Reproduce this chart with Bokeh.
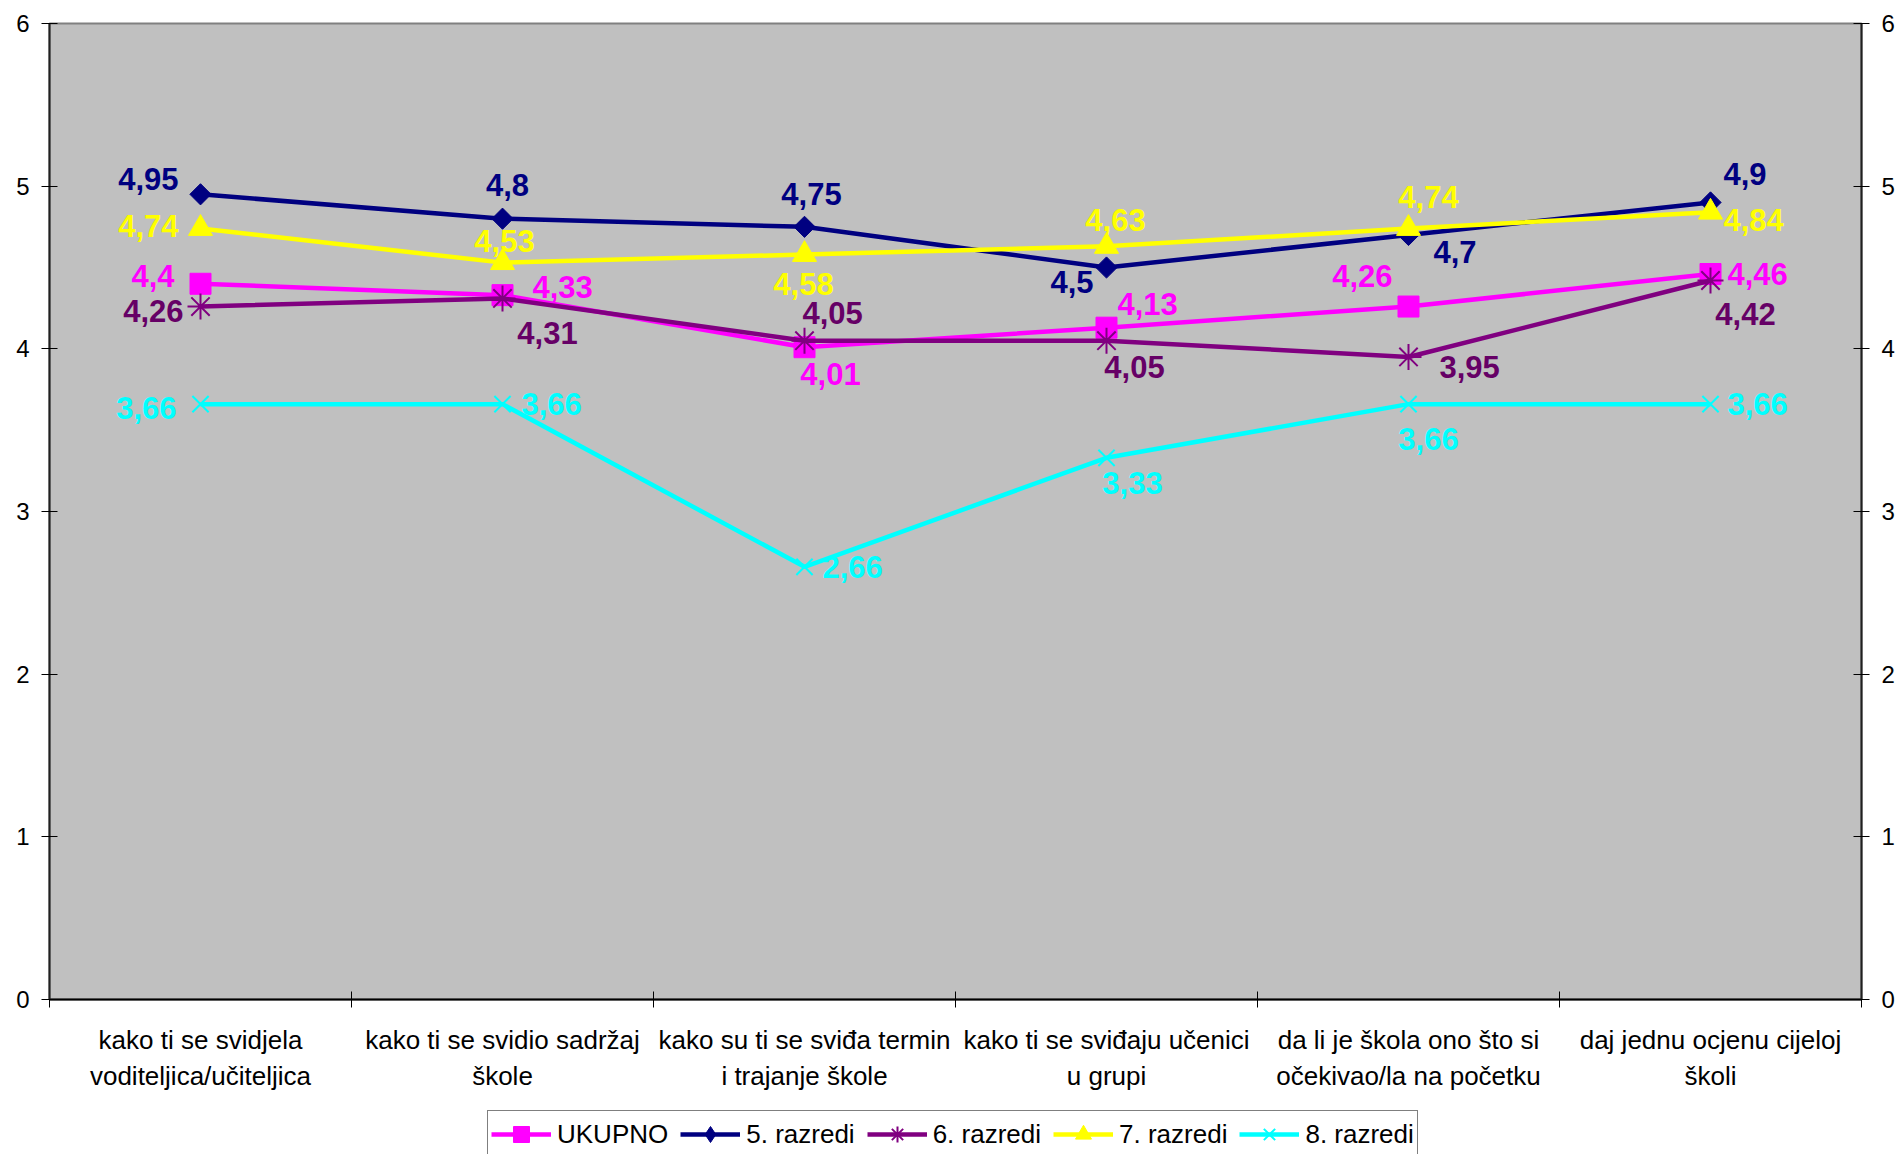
import math
from bokeh.plotting import figure
from bokeh.layouts import column
from bokeh.models import (Range1d, LinearAxis, FixedTicker, ColumnDataSource,
                          Legend, LegendItem)
from bokeh.core.properties import value
from bokeh.embed import file_html
from bokeh.resources import INLINE

# ---------------- data ----------------
categories = [
    "kako ti se svidjela\nvoditeljica/učiteljica",
    "kako ti se svidio sadržaj\nškole",
    "kako su ti se sviđa termin\ni trajanje škole",
    "kako ti se sviđaju učenici\nu grupi",
    "da li je škola ono što si\nočekivao/la na početku",
    "daj jednu ocjenu cijeloj\nškoli",
]
series_names = ["UKUPNO", "5. razredi", "6. razredi", "7. razredi", "8. razredi"]
ukupno = [4.4, 4.33, 4.01, 4.13, 4.26, 4.46]
razredi_5 = [4.95, 4.8, 4.75, 4.5, 4.7, 4.9]
razredi_6 = [4.26, 4.31, 4.05, 4.05, 3.95, 4.42]
razredi_7 = [4.74, 4.53, 4.58, 4.63, 4.74, 4.84]
razredi_8 = [3.66, 3.66, 2.66, 3.33, 3.66, 3.66]
y_ticks = [0, 1, 2, 3, 4, 5, 6]

series_values = [ukupno, razredi_5, razredi_6, razredi_7, razredi_8]

# ---------------- styles ----------------
line_colors = ["#FF00FF", "#000080", "#800080", "#FFFF00", "#00FFFF"]
label_colors = ["#FF00FF", "#000080", "#660066", "#FFFF00", "#00FFFF"]
# (plot marker, size, angle, filled, legend marker)
markers = [("square", 21, 0.0, True, "square"),
           ("square", 15, math.pi / 4, True, "diamond"),
           ("asterisk", 26, 0.0, False, "asterisk"),
           ("triangle", 24, 0.0, True, "triangle"),
           ("x", 23, 0.0, False, "x")]
# label placement (screen px offsets, alignment) per series, per point
label_place = [
    [(-26, -8, "right"), (30, -8, "left"), (26, 27, "center"), (11, -24, "left"), (-16, -31, "right"), (17, 0, "left")],
    [(-22, -15, "right"), (5, -34, "center"), (7, -33, "center"), (-13, 14, "right"), (25, 17, "left"), (13, -28, "left")],
    [(-17, 4, "right"), (45, 35, "center"), (-2, -28, "left"), (28, 26, "center"), (31, 10, "left"), (35, 33, "center")],
    [(-22, -2, "right"), (2, -22, "center"), (-1, 30, "center"), (9, -26, "center"), (20, -31, "center"), (13, 8, "left")],
    [(-24, 4, "right"), (19, 0, "left"), (18, 0, "left"), (26, 25, "center"), (20, 35, "center"), (17, 0, "left")],
]

FONT = "Liberation Sans"
W = 1898

p = figure(width=W, height=1110,
           x_range=Range1d(0, 6), y_range=Range1d(0, 6),
           x_axis_type=None, y_axis_type=None,
           output_backend="svg", toolbar_location=None,
           min_border_left=49, min_border_right=37,
           min_border_top=23, min_border_bottom=111)
p.background_fill_color = "#C0C0C0"
p.border_fill_color = "white"
p.outline_line_color = "#808080"
p.outline_line_width = 2

# axes
xs = [i + 0.5 for i in range(len(categories))]
xaxis = LinearAxis(ticker=FixedTicker(ticks=xs, minor_ticks=list(range(len(categories) + 1))))
xaxis.major_label_overrides = {x: c for x, c in zip(xs, categories)}
xaxis.major_tick_in = 0
xaxis.major_tick_out = 0
xaxis.minor_tick_in = 8
xaxis.minor_tick_out = 8
xaxis.minor_tick_line_color = "black"
xaxis.minor_tick_line_width = 1
xaxis.axis_line_color = "black"
xaxis.axis_line_width = 2
xaxis.major_label_text_font = FONT
xaxis.major_label_text_font_size = "26px"
xaxis.major_label_text_color = "black"
xaxis.major_label_standoff = 17
xaxis.major_label_orientation = "horizontal"
p.add_layout(xaxis, "below")

for side in ("left", "right"):
    ax = LinearAxis(ticker=FixedTicker(ticks=y_ticks, minor_ticks=[]))
    ax.major_tick_in = 8
    ax.major_tick_out = 8
    ax.major_tick_line_color = "black"
    ax.major_tick_line_width = 1
    ax.axis_line_color = "#202020"
    ax.axis_line_width = 2
    ax.major_label_text_font = FONT
    ax.major_label_text_font_size = "24px"
    ax.major_label_text_color = "black"
    ax.major_label_standoff = 12
    p.add_layout(ax, side)

# legend strip: a second figure sharing the series' sources, data kept out of view
pl_leg = figure(width=W, height=44,
                x_range=Range1d(0, 6), y_range=Range1d(100, 101),
                x_axis_type=None, y_axis_type=None,
                output_backend="svg", toolbar_location=None, min_border=0)
pl_leg.outline_line_color = None
pl_leg.background_fill_color = "white"
pl_leg.border_fill_color = "white"

items = []
for k, (name, vals) in enumerate(zip(series_names, series_values)):
    src = ColumnDataSource(dict(x=xs, y=vals))
    mk, size, ang, filled, lmk = markers[k]
    p.line("x", "y", source=src, line_color=line_colors[k], line_width=4.5)
    p.scatter("x", "y", source=src, marker=mk, size=size, angle=ang,
              line_color=line_colors[k], line_width=2 if not filled else 1,
              fill_color=line_colors[k] if filled else None)
    ln2 = pl_leg.line("x", "y", source=src, line_color=line_colors[k], line_width=4.5)
    sc2 = pl_leg.scatter("x", "y", source=src, marker=lmk, size=size,
                         line_color=line_colors[k], line_width=2 if not filled else 1,
                         fill_color=line_colors[k] if filled else None)
    items.append(LegendItem(label=name, renderers=[ln2, sc2]))

# data labels drawn on top
for k, vals in enumerate(series_values):
    pl = label_place[k]
    lsrc = ColumnDataSource(dict(
        x=xs, y=vals,
        txt=[("%g" % v).replace(".", ",") for v in vals],
        dx=[a[0] for a in pl], dy=[a[1] for a in pl], al=[a[2] for a in pl]))
    p.text("x", "y", text="txt", source=lsrc, x_offset="dx", y_offset="dy",
           text_align="al", text_baseline="middle",
           text_font=value(FONT), text_font_style="bold",
           text_font_size="31px", text_color=label_colors[k])

legend = Legend(items=items, orientation="horizontal", location=(438, -4))
legend.label_text_font = FONT
legend.label_text_font_size = "26px"
legend.label_text_color = "black"
legend.glyph_width = 60
legend.glyph_height = 40
legend.label_standoff = 6
legend.spacing = 12
legend.padding = 3
legend.margin = 0
legend.border_line_color = "black"
legend.border_line_width = 1
legend.background_fill_color = "white"
legend.background_fill_alpha = 1.0
pl_leg.add_layout(legend, "center")

layout = column(p, pl_leg, spacing=0)
open("out.html", "w").write(file_html(layout, INLINE))
